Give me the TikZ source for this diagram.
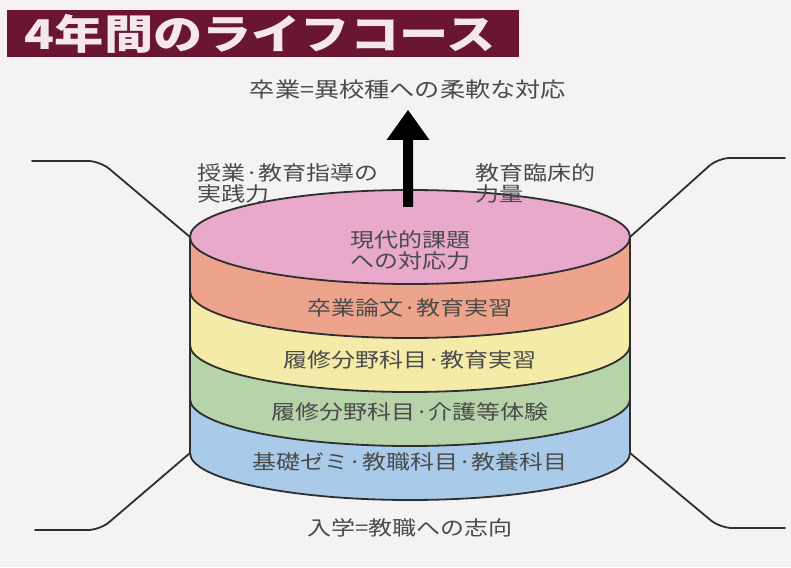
\documentclass[tikz,border=0pt]{standalone}
\usepackage{fontspec}
\newfontfamily\jp[FakeStretch=1.2]{Noto Sans CJK JP}
\newfontfamily\jptitle[FakeStretch=1.2]{Noto Sans CJK JP}
\definecolor{bgc}{HTML}{F4F2F2}
\definecolor{titlec}{HTML}{6B1535}
\definecolor{titletxt}{HTML}{F6E6EE}
\definecolor{pinkc}{HTML}{E9A9CB}
\definecolor{orangec}{HTML}{EEA48C}
\definecolor{yellowc}{HTML}{F5EBA8}
\definecolor{greenc}{HTML}{B6D3A9}
\definecolor{bluec}{HTML}{A9CBE9}
\definecolor{linec}{HTML}{2E2E2E}
\definecolor{txtc}{HTML}{4A4A4A}
\begin{document}
\begin{tikzpicture}[x=1pt,y=1pt,
  edge/.style={draw=linec, line width=1.8pt, line join=round, line cap=round},
  lbl/.style={text=txtc, font=\jp\fontsize{20}{21}\selectfont, inner sep=0pt},
  ttl/.style={text=titletxt, font=\jptitle\bfseries\fontsize{41}{44}\selectfont, inner sep=0pt},
  ell/.style={x radius=220, y radius=47},
]
\fill[bgc] (0,0) rectangle (791,567);
\useasboundingbox (0,0) rectangle (791,567);
% title
\fill[titlec] (7,510) rectangle (519,557);
\node[ttl] (title) at (260,533) {4年間のライフコース};
% bands (fills)
\fill[bluec] (190,168) -- (190,114) arc[start angle=180,end angle=360,ell] -- (630,168) arc[start angle=0,end angle=-180,ell] -- cycle;
\fill[greenc] (190,222) -- (190,168) arc[start angle=180,end angle=360,ell] -- (630,222) arc[start angle=0,end angle=-180,ell] -- cycle;
\fill[yellowc] (190,276) -- (190,222) arc[start angle=180,end angle=360,ell] -- (630,276) arc[start angle=0,end angle=-180,ell] -- cycle;
\fill[orangec] (190,330) -- (190,276) arc[start angle=180,end angle=360,ell] -- (630,330) arc[start angle=0,end angle=-180,ell] -- cycle;
\fill[pinkc] (410,330) ellipse[ell];
% outlines
\draw[edge] (410,330) ellipse[ell];
\draw[edge] (190,276) arc[start angle=180,end angle=360,ell];
\draw[edge] (190,222) arc[start angle=180,end angle=360,ell];
\draw[edge] (190,168) arc[start angle=180,end angle=360,ell];
\draw[edge] (190,114) arc[start angle=180,end angle=360,ell];
\coordinate (LT) at (190,330);
\coordinate (LB) at (190,114);
\coordinate (RT) at (630,330);
\coordinate (RB) at (630,114);
\draw[edge] (LT) -- (LB);
\draw[edge] (RT) -- (RB);
% connectors
\coordinate (ltb) at (100,406); \coordinate (lte) at (32,406);
\coordinate (lbb) at (100,37);  \coordinate (lbe) at (35,37);
\coordinate (rtb) at (718,409); \coordinate (rte) at (785,409);
\coordinate (rbb) at (720,39);  \coordinate (rbe) at (785,39);
\draw[edge, rounded corners=12pt] (lte) -- (ltb) -- (LT);
\draw[edge, rounded corners=12pt] (lbe) -- (lbb) -- (LB);
\draw[edge, rounded corners=12pt] (rte) -- (rtb) -- (RT);
\draw[edge, rounded corners=12pt] (rbe) -- (rbb) -- (RB);
% arrow
\fill[black] (403,360) -- (403,427) -- (386.5,427) -- (408,457) -- (429.5,427) -- (413,427) -- (413,360) -- cycle;
% texts
\node[lbl, font=\jp\fontsize{21}{22}\selectfont] (goal) at (408,477) {卒業=異校種への柔軟な対応};
\node[lbl, anchor=west, align=left] (lefttxt) at (197,383.5) {授業·教育指導の\\実践力};
\node[lbl, anchor=west, align=left] (righttxt) at (475,383.5) {教育臨床的\\力量};
\node[lbl, align=center] (top) at (410,316.5) {現代的課題\\への対応力};
\node[lbl] (b1) at (410,259) {卒業論文·教育実習};
\node[lbl] (b2) at (410,207) {履修分野科目·教育実習};
\node[lbl] (b3) at (410,155) {履修分野科目·介護等体験};
\node[lbl] (b4) at (410,105) {基礎ゼミ·教職科目·教養科目};
\node[lbl] (start) at (410,39) {入学=教職への志向};
\end{tikzpicture}
\end{document}
